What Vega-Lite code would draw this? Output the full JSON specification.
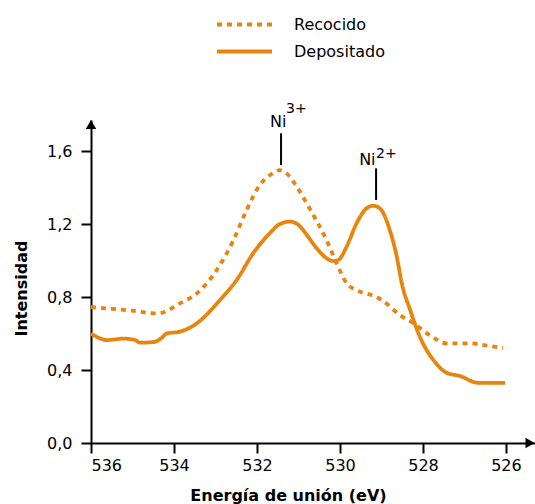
{
  "$schema": "https://vega.github.io/schema/vega-lite/v6.json",
  "autosize": {"type": "none"},
  "width": 444,
  "height": 323,
  "padding": {"left": 91, "top": 120, "right": 0, "bottom": 61},
  "background": "white",
  "config": {
    "view": {"stroke": null},
    "font": "DejaVu Sans",
    "axis": {"labelFont": "DejaVu Sans", "titleFont": "DejaVu Sans", "labelColor": "#000", "titleColor": "#000", "domainColor": "#000", "tickColor": "#000", "domainWidth": 2, "tickWidth": 2, "tickSize": 10, "grid": false, "labelFontSize": 16, "titleFontSize": 16, "titleFontWeight": "bold"},
    "legend": {"labelFont": "DejaVu Sans", "labelFontSize": 16, "labelColor": "#000"}
  },
  "datasets": {
    "curves": [
      {"serie": "Recocido", "e": 536.0, "i": 0.745},
      {"serie": "Recocido", "e": 535.5, "i": 0.735},
      {"serie": "Recocido", "e": 535.0, "i": 0.725},
      {"serie": "Recocido", "e": 534.42, "i": 0.71},
      {"serie": "Recocido", "e": 534.2, "i": 0.72},
      {"serie": "Recocido", "e": 533.93, "i": 0.756},
      {"serie": "Recocido", "e": 533.45, "i": 0.82},
      {"serie": "Recocido", "e": 532.97, "i": 0.948},
      {"serie": "Recocido", "e": 532.57, "i": 1.11},
      {"serie": "Recocido", "e": 532.25, "i": 1.277},
      {"serie": "Recocido", "e": 531.93, "i": 1.414},
      {"serie": "Recocido", "e": 531.6, "i": 1.48},
      {"serie": "Recocido", "e": 531.45, "i": 1.495},
      {"serie": "Recocido", "e": 531.3, "i": 1.48},
      {"serie": "Recocido", "e": 531.04, "i": 1.404},
      {"serie": "Recocido", "e": 530.72, "i": 1.28},
      {"serie": "Recocido", "e": 530.32, "i": 1.11},
      {"serie": "Recocido", "e": 530.08, "i": 0.985},
      {"serie": "Recocido", "e": 529.84, "i": 0.875},
      {"serie": "Recocido", "e": 529.6, "i": 0.838},
      {"serie": "Recocido", "e": 529.12, "i": 0.8},
      {"serie": "Recocido", "e": 528.96, "i": 0.778},
      {"serie": "Recocido", "e": 528.55, "i": 0.7},
      {"serie": "Recocido", "e": 528.23, "i": 0.656},
      {"serie": "Recocido", "e": 527.83, "i": 0.59},
      {"serie": "Recocido", "e": 527.43, "i": 0.546},
      {"serie": "Recocido", "e": 526.87, "i": 0.546},
      {"serie": "Recocido", "e": 526.5, "i": 0.535},
      {"serie": "Recocido", "e": 526.07, "i": 0.52},
      {"serie": "Depositado", "e": 536.0, "i": 0.6},
      {"serie": "Depositado", "e": 535.8, "i": 0.575},
      {"serie": "Depositado", "e": 535.62, "i": 0.564},
      {"serie": "Depositado", "e": 535.22, "i": 0.572},
      {"serie": "Depositado", "e": 534.95, "i": 0.565},
      {"serie": "Depositado", "e": 534.82, "i": 0.55},
      {"serie": "Depositado", "e": 534.5, "i": 0.553},
      {"serie": "Depositado", "e": 534.3, "i": 0.575},
      {"serie": "Depositado", "e": 534.18, "i": 0.6},
      {"serie": "Depositado", "e": 533.86, "i": 0.61},
      {"serie": "Depositado", "e": 533.45, "i": 0.656},
      {"serie": "Depositado", "e": 532.89, "i": 0.784},
      {"serie": "Depositado", "e": 532.49, "i": 0.893},
      {"serie": "Depositado", "e": 532.09, "i": 1.04},
      {"serie": "Depositado", "e": 531.69, "i": 1.15},
      {"serie": "Depositado", "e": 531.45, "i": 1.2},
      {"serie": "Depositado", "e": 531.2, "i": 1.213},
      {"serie": "Depositado", "e": 531.0, "i": 1.195},
      {"serie": "Depositado", "e": 530.8, "i": 1.14},
      {"serie": "Depositado", "e": 530.56, "i": 1.067},
      {"serie": "Depositado", "e": 530.32, "i": 1.012},
      {"serie": "Depositado", "e": 530.16, "i": 0.997},
      {"serie": "Depositado", "e": 530.04, "i": 1.003},
      {"serie": "Depositado", "e": 529.84, "i": 1.076},
      {"serie": "Depositado", "e": 529.6, "i": 1.204},
      {"serie": "Depositado", "e": 529.36, "i": 1.286},
      {"serie": "Depositado", "e": 529.2, "i": 1.3},
      {"serie": "Depositado", "e": 529.04, "i": 1.286},
      {"serie": "Depositado", "e": 528.8, "i": 1.167},
      {"serie": "Depositado", "e": 528.63, "i": 1.02},
      {"serie": "Depositado", "e": 528.51, "i": 0.875},
      {"serie": "Depositado", "e": 528.31, "i": 0.73},
      {"serie": "Depositado", "e": 528.07, "i": 0.58},
      {"serie": "Depositado", "e": 527.75, "i": 0.455},
      {"serie": "Depositado", "e": 527.43, "i": 0.385},
      {"serie": "Depositado", "e": 527.11, "i": 0.367},
      {"serie": "Depositado", "e": 526.67, "i": 0.33},
      {"serie": "Depositado", "e": 526.02, "i": 0.33}
    ],
    "marks": [
      {"ion": "Ni3+", "e": 531.42, "y1": 1.523, "y2": 1.697, "te": 531.49, "ty": 1.73, "sup": "3+", "se": 531.3, "sy": 1.81},
      {"ion": "Ni2+", "e": 529.13, "y1": 1.332, "y2": 1.505, "te": 529.34, "ty": 1.523, "sup": "2+", "se": 529.13, "sy": 1.56}
    ],
    "arrows": [
      {"e": 525.42, "i": 0, "shape": "triangle-right"},
      {"e": 536, "i": 1.745, "shape": "triangle-up"}
    ]
  },
  "layer": [
    {
      "data": {"name": "curves"},
      "mark": {"type": "line", "color": "#E8850F", "strokeWidth": 3.8, "interpolate": "monotone", "strokeCap": "butt", "clip": false},
      "encoding": {
        "x": {"field": "e", "type": "quantitative", "scale": {"domain": [525.3, 536], "reverse": true, "nice": false, "zero": false},
              "axis": {"values": [536, 534, 532, 530, 528, 526], "format": "d", "labelPadding": 4, "title": "Energía de unión (eV)", "titlePadding": 14, "titleX": 197}},
        "y": {"field": "i", "type": "quantitative", "scale": {"domain": [0, 1.77], "nice": false},
              "axis": {"values": [0, 0.4, 0.8, 1.2, 1.6], "labelExpr": "replace(format(datum.value, '.1f'), '.', ',')", "labelPadding": 9, "title": "Intensidad", "titlePadding": 17, "titleY": 168}},
        "strokeDash": {"field": "serie", "type": "nominal",
                       "scale": {"domain": ["Recocido", "Depositado"], "range": [[5, 5], [1, 0]]},
                       "legend": {"title": null, "orient": "none", "legendX": 124, "legendY": -108, "symbolType": "stroke", "symbolSize": 3025, "symbolStrokeColor": "#E8850F", "symbolStrokeWidth": 4, "labelOffset": 20, "rowPadding": 2, "clipHeight": 25}}
      }
    },
    {
      "data": {"name": "marks"},
      "mark": {"type": "rule", "color": "#000", "strokeWidth": 2, "clip": false},
      "encoding": {"x": {"field": "e", "type": "quantitative"}, "y": {"field": "y1", "type": "quantitative"}, "y2": {"field": "y2"}}
    },
    {
      "data": {"name": "marks"},
      "mark": {"type": "text", "font": "DejaVu Sans", "fontSize": 16, "color": "#000", "align": "center", "baseline": "alphabetic"},
      "encoding": {"x": {"field": "te", "type": "quantitative"}, "y": {"field": "ty", "type": "quantitative"}, "text": {"value": "Ni"}}
    },
    {
      "data": {"name": "marks"},
      "mark": {"type": "text", "font": "DejaVu Sans", "fontSize": 14, "color": "#000", "align": "left", "baseline": "alphabetic"},
      "encoding": {"x": {"field": "se", "type": "quantitative"}, "y": {"field": "sy", "type": "quantitative"}, "text": {"field": "sup"}}
    },
    {
      "data": {"name": "arrows"},
      "mark": {"type": "point", "filled": true, "color": "#000", "size": 110, "opacity": 1, "clip": false},
      "encoding": {"x": {"field": "e", "type": "quantitative"}, "y": {"field": "i", "type": "quantitative"}, "shape": {"field": "shape", "type": "nominal", "scale": null}}
    }
  ]
}
